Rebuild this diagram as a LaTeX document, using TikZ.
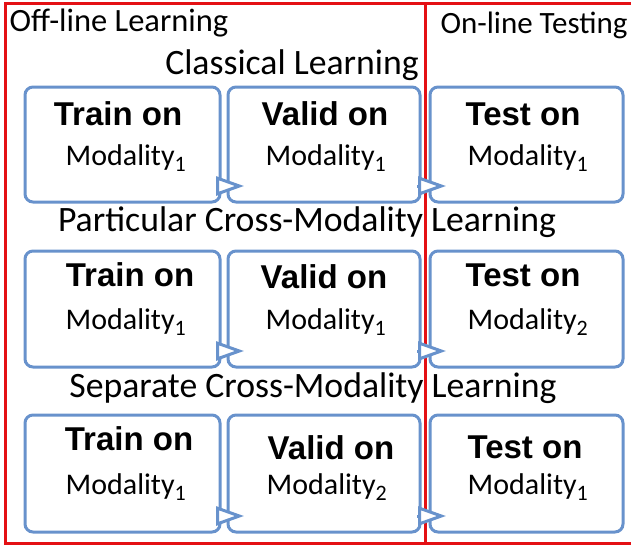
\documentclass[tikz,border=0pt]{standalone}
\usepackage{fontspec}
\setmainfont{Carlito}
\newfontfamily\arialfont{Liberation Sans}
\usetikzlibrary{arrows.meta}
\definecolor{boxblue}{RGB}{104,146,204}
\definecolor{framered}{RGB}{228,16,20}
\tikzset{
  stagebox/.style={draw=boxblue, line width=3pt, rounded corners=8pt, fill=white},
  headtext/.style={font=\fontsize{31}{36}\selectfont, inner sep=0pt},
  rowtitle/.style={font=\fontsize{35.7}{40}\selectfont, inner sep=0pt},
  boldtext/.style={font=\arialfont\bfseries\fontsize{33}{38}\selectfont, inner sep=0pt},
  modtext/.style={font=\fontsize{30}{36}\selectfont, inner sep=0pt},
  flow/.style={draw=boxblue, line width=3pt, -{Triangle[fill=white, length=28pt, width=19pt, line width=3pt]}},
  frame/.style={draw=framered, line width=3pt}
}
\newcommand{\modal}[1]{Modality\textsubscript{\fontsize{22}{24}\selectfont #1}}
\begin{document}
\begin{tikzpicture}[x=1pt, y=-1pt]
\useasboundingbox (0,0) rectangle (631,546);
% frame
\draw[frame] (5,3) rectangle (640,543);
\draw[frame] (425,3) -- (425,543);
% headings
\node[headtext, font=\fontsize{32.5}{36}\selectfont] (off) at (119,23) {Off-line Learning};
\node[headtext] (on) at (534,25) {On-line Testing};
\node[rowtitle] (t1) at (292,65) {Classical Learning};
\node[rowtitle] (t2) at (307,222) {Particular Cross-Modality Learning};
\node[rowtitle] (t3) at (313,388) {Separate Cross-Modality Learning};
% row boxes
\foreach \r/\yt/\yb in {1/87/202, 2/251/367, 3/415/532}{
  \path[stagebox] (25,\yt) rectangle (220,\yb);
  \path[stagebox] (228,\yt) rectangle (420,\yb);
  \path[stagebox] (430,\yt) rectangle (623,\yb);
}
% coordinate anchors for boxes
\coordinate (a1) at (220,202); \coordinate (b1w) at (228,202); \coordinate (b1) at (420,202); \coordinate (c1w) at (430,202);
\coordinate (a2) at (220,367); \coordinate (b2w) at (228,367); \coordinate (b2) at (420,367); \coordinate (c2w) at (430,367);
\coordinate (a3) at (220,532); \coordinate (b3w) at (228,532); \coordinate (b3) at (420,532); \coordinate (c3w) at (430,532);
% arrows
\foreach \r in {1,2,3}{
  \draw[flow] ([xshift=-4pt,yshift=16pt]a\r) -- ([xshift=16pt,yshift=16pt]b\r w);
  \draw[flow] ([xshift=-3pt,yshift=16pt]b\r) -- ([xshift=16pt,yshift=16pt]c\r w);
}
% row 1
\node[boldtext] (tr1) at (118,114) {Train on};
\node[modtext] (mtr1) at (126,158) {\modal{1}};
\node[boldtext] (va1) at (325,114) {Valid on};
\node[modtext] (mva1) at (326,158) {\modal{1}};
\node[boldtext] (te1) at (523,114) {Test on};
\node[modtext] (mte1) at (528,158) {\modal{1}};
% row 2
\node[boldtext] (tr2) at (130,275) {Train on};
\node[modtext] (mtr2) at (126,322) {\modal{1}};
\node[boldtext] (va2) at (324,277) {Valid on};
\node[modtext] (mva2) at (326,322) {\modal{1}};
\node[boldtext] (te2) at (523,275) {Test on};
\node[modtext] (mte2) at (528,322) {\modal{2}};
% row 3
\node[boldtext] (tr3) at (129,439) {Train on};
\node[modtext] (mtr3) at (126,487) {\modal{1}};
\node[boldtext] (va3) at (331,448) {Valid on};
\node[modtext] (mva3) at (327,487) {\modal{2}};
\node[boldtext] (te3) at (525,447) {Test on};
\node[modtext] (mte3) at (528,487) {\modal{1}};
\end{tikzpicture}
\end{document}
